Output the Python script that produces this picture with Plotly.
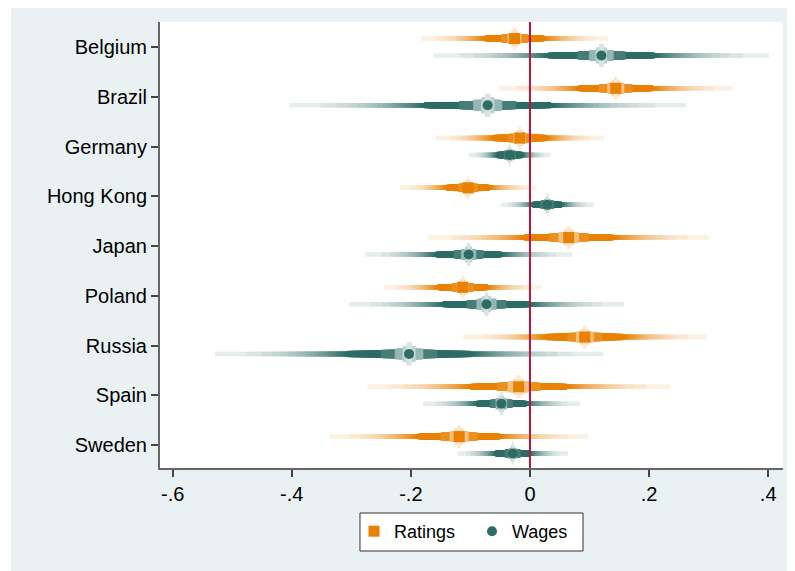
import plotly.graph_objects as go
from statistics import NormalDist

countries = ["Belgium", "Brazil", "Germany", "Hong Kong", "Japan",
             "Poland", "Russia", "Spain", "Sweden"]
ratings_b = [-0.026, 0.144, -0.017, -0.104, 0.065, -0.113, 0.092, -0.019, -0.119]
ratings_se = [0.0610, 0.0762, 0.0547, 0.0443, 0.0916, 0.0512, 0.0792, 0.0986, 0.0842]
wages_b = [0.120, -0.071, -0.034, 0.029, -0.103, -0.073, -0.203, -0.048, -0.029]
wages_se = [0.1092, 0.1292, 0.0267, 0.0303, 0.0675, 0.0897, 0.1266, 0.0512, 0.0361]
x_ticks = [-0.6, -0.4, -0.2, 0.0, 0.2, 0.4]
x_ticklabels = ["-.6", "-.4", "-.2", "0", ".2", ".4"]
levels = list(range(99, 0, -2))  # confidence levels (%) for smoothed CIs

ORANGE = (232, 128, 0)
TEAL = (45, 108, 101)
BG = "#E9F1F2"


def mix(rgb, k):
    r, g, b = [round(255 - k * (255 - c)) for c in rgb]
    return f"rgb({r},{g},{b})"


def style(p):
    if p > 60:
        t = (99 - p) / 38.0
        return 4.5, 0.12 + 0.88 * min(1.0, t ** 0.9)
    if p > 30:
        return 6.5, 1.0
    if p > 16:
        return 8.5, 0.88
    if p > 7:
        return 11, 0.5
    if p > 3:
        return 16, 0.3
    return 23, 0.18


fig = go.Figure()
series = [("Ratings", ratings_b, ratings_se, ORANGE, -0.17, "square", 11),
          ("Wages", wages_b, wages_se, TEAL, 0.17, "circle", 10)]

for name, bs, ses, col, off, sym, msz in series:
    for p in levels:
        z = NormalDist().inv_cdf(0.5 + p / 200.0)
        xs, ys = [], []
        for i, (b, se) in enumerate(zip(bs, ses)):
            yc = i + 1 + off
            xs += [b - z * se, b + z * se, None]
            ys += [yc, yc, None]
        w, k = style(p)
        fig.add_trace(go.Scatter(x=xs, y=ys, mode="lines",
                                 line=dict(color=mix(col, k), width=w),
                                 showlegend=False, hoverinfo="skip"))

for name, bs, ses, col, off, sym, msz in series:
    fig.add_trace(go.Scatter(
        x=bs, y=[i + 1 + off for i in range(len(bs))], mode="markers",
        name=name, marker=dict(symbol=sym, size=msz, color=mix(col, 1.0),
                               line=dict(width=0))))

fig.add_shape(type="line", xref="x", yref="paper", x0=0, x1=0, y0=0, y1=1,
              line=dict(color="#B5173F", width=2), layer="above")
# thin white strip at the left edge of the image
fig.add_shape(type="rect", xref="paper", yref="paper", x0=-0.26, x1=-0.2392,
              y0=-0.3, y1=1.06, fillcolor="white", line=dict(width=0))
# legend frame
fig.add_shape(type="rect", xref="paper", yref="paper", x0=0.321, x1=0.679,
              y0=-0.1861, y1=-0.1009, fillcolor="white",
              line=dict(color="#333333", width=1), layer="below")

fig.update_layout(
    width=795, height=571,
    margin=dict(l=152, r=20, t=14, b=111),
    paper_bgcolor=BG, plot_bgcolor="white",
    font=dict(family="Liberation Sans, Arial, sans-serif", color="black", size=18),
    showlegend=True,
    legend=dict(orientation="h", x=0.3114, xanchor="left", y=-0.1009, yanchor="top",
                bgcolor="rgba(0,0,0,0)", borderwidth=0,
                entrywidth=73, font=dict(size=18)),
)
fig.update_xaxes(range=[-0.6213, 0.4249], tickvals=x_ticks, ticktext=x_ticklabels,
                 showgrid=False, zeroline=False, showline=True, linecolor="#666666",
                 linewidth=2, ticks="outside", ticklen=7, tickwidth=1.5,
                 tickcolor="#444444", tickfont=dict(size=20))
fig.update_yaxes(range=[9.462, 0.497], tickvals=list(range(1, len(countries) + 1)),
                 ticktext=countries, showgrid=False, zeroline=False, showline=True,
                 linecolor="#666666", linewidth=2, ticks="outside", ticklen=7,
                 tickwidth=1.5, tickcolor="#444444", tickfont=dict(size=20))

fig.write_html("out.html")
